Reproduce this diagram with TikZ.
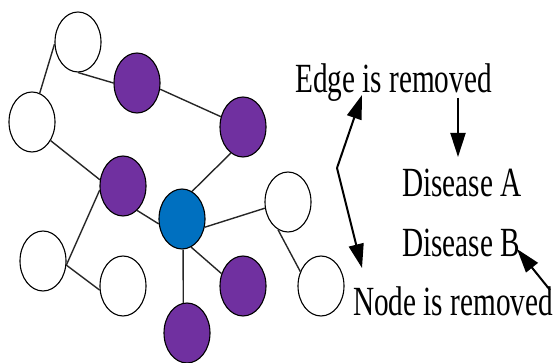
\documentclass[tikz,border=0pt]{standalone}
\usepackage{fontspec}
\setmainfont{Liberation Serif}
\usetikzlibrary{shapes.geometric,arrows.meta}
\definecolor{nodepurple}{RGB}{112,48,160}
\definecolor{nodeblue}{RGB}{0,112,192}
\begin{document}
\begin{tikzpicture}[x=1pt,y=-1pt,
  vertex/.style={ellipse,draw=black,line width=1.1pt,inner sep=0pt,
                 minimum width=46pt,minimum height=60pt},
  healthy/.style={vertex,fill=white},
  sick/.style={vertex,fill=nodepurple},
  hub/.style={vertex,fill=nodeblue},
  link/.style={line width=1.4pt,black!85},
  pointer/.style={line width=2pt,-{Triangle[length=24pt,width=15pt]}},
  caption/.style={inner sep=0pt,anchor=base west,xscale=0.705,
                  font=\fontsize{41.5}{44}\selectfont}]
\useasboundingbox (0,0) rectangle (559,363);

% network
\node[healthy] (W1) at (78,42)  {};
\node[sick]    (P1) at (137,83) {};
\node[sick]    (P2) at (243,127) {};
\node[healthy] (W2) at (32,122) {};
\node[sick]    (P3) at (123,186) {};
\node[hub]     (B)  at (182,219) {};
\node[healthy] (W3) at (288,202) {};
\node[healthy] (W4) at (43,261) {};
\node[healthy] (W5) at (123,286) {};
\node[sick]    (P4) at (243,286) {};
\node[sick]    (P5) at (187,333) {};
\node[healthy] (W6) at (321,286) {};

\draw[link] (W1.185) -- (W2.75);
\draw[link] (W1.270) -- (P1.180);
\draw[link] (P1.345) -- (P2.155);
\draw[link] (W2.315) -- (P3.165);
\draw[link] (P2.245) -- (B.70);
\draw[link] (P3.190) -- (W4.350);
\draw[link] (P3.300) -- (B.192);
\draw[link] (B.340) -- (W3.195);
\draw[link] (B.272) -- (P5.97);
\draw[link] (B.288) -- (P4.150);
\draw[link] (W4.350) -- (W5.190);
\draw[link] (W3.250) -- (W6.145);

% captions
\node[caption] (edge) at (295,93)  {Edge is removed};
\node[caption] (disA) at (402,197) {Disease A};
\node[caption] (disB) at (402,257) {Disease B};
\node[caption] (noderm) at (353,315) {Node is removed};

% pointers
\coordinate (fork) at (337,168);
\coordinate (edgetip) at (362,95);
\coordinate (nodetip) at (362,268);
\coordinate (atail) at (458,98);
\coordinate (atip) at (458,157);
\coordinate (btail) at (550,290);
\coordinate (btip) at (517,249);
\draw[pointer] (fork) -- (edgetip);
\draw[pointer] (fork) -- (nodetip);
\draw[pointer] (atail) -- (atip);
\draw[pointer] (btail) -- (btip);
\end{tikzpicture}
\end{document}
